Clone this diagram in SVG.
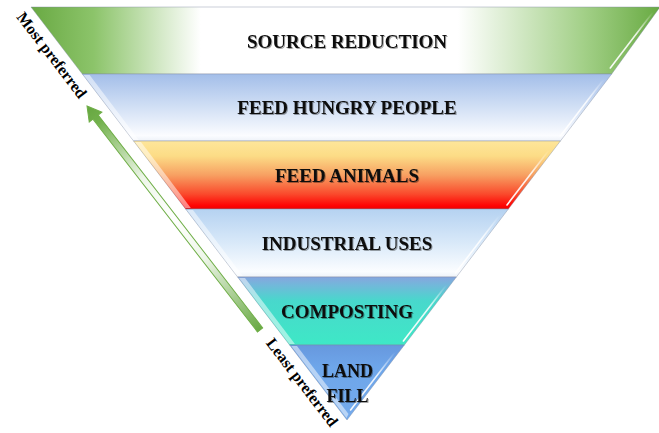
<svg xmlns="http://www.w3.org/2000/svg" width="659" height="433" viewBox="0 0 659 433">
  <defs>
    <style>
      .band { stroke: #7d8aa0; stroke-opacity: 0.4; stroke-width: 1; stroke-linejoin: round; }
      .bevel-l { fill: #ffffff; opacity: 0.5; }
      .bevel-r { fill: none; stroke: url(#gHighlight); stroke-width: 1.6; stroke-linecap: round; }
      .label { font-family: "Liberation Serif", "Times New Roman", serif; font-weight: bold; font-size: 19px; fill: #111111; text-anchor: middle; filter: url(#txtShadow); }
      .side { font-family: "Liberation Serif", "Times New Roman", serif; font-weight: bold; font-size: 16px; fill: #000000; }
    </style>
    <linearGradient id="gSource" gradientUnits="userSpaceOnUse" x1="31" y1="0" x2="659" y2="0">
      <stop offset="0" stop-color="#69a943"/>
      <stop offset="0.1" stop-color="#8cc46a"/>
      <stop offset="0.27" stop-color="#ffffff"/>
      <stop offset="0.68" stop-color="#ffffff"/>
      <stop offset="0.88" stop-color="#a3d088"/>
      <stop offset="1" stop-color="#69ab43"/>
    </linearGradient>
    <linearGradient id="gHungry" x1="0" y1="0" x2="0" y2="1">
      <stop offset="0" stop-color="#a3bee9"/>
      <stop offset="0.5" stop-color="#d2e0f5"/>
      <stop offset="0.92" stop-color="#fbfcff"/>
      <stop offset="1" stop-color="#eef2f8"/>
    </linearGradient>
    <linearGradient id="gAnimals" x1="0" y1="0" x2="0" y2="1">
      <stop offset="0" stop-color="#fee69a"/>
      <stop offset="0.22" stop-color="#fcdc86"/>
      <stop offset="0.5" stop-color="#f7a062"/>
      <stop offset="0.78" stop-color="#fa4a2c"/>
      <stop offset="0.95" stop-color="#ff0404"/>
      <stop offset="1" stop-color="#ee0000"/>
    </linearGradient>
    <linearGradient id="gIndustrial" x1="0" y1="0" x2="0" y2="1">
      <stop offset="0" stop-color="#b5d2f1"/>
      <stop offset="0.5" stop-color="#d9e9f9"/>
      <stop offset="0.92" stop-color="#fbfdff"/>
      <stop offset="1" stop-color="#eef3f9"/>
    </linearGradient>
    <linearGradient id="gCompost" x1="0" y1="0" x2="0" y2="1">
      <stop offset="0" stop-color="#86a6de"/>
      <stop offset="0.12" stop-color="#72b8da"/>
      <stop offset="0.35" stop-color="#48d8cc"/>
      <stop offset="1" stop-color="#3ee8c6"/>
    </linearGradient>
    <linearGradient id="gLandfill" x1="0" y1="0" x2="0" y2="1">
      <stop offset="0" stop-color="#6798de"/>
      <stop offset="0.3" stop-color="#6ea6ea"/>
      <stop offset="1" stop-color="#74aaec"/>
    </linearGradient>
    <linearGradient id="gHighlight" x1="0" y1="0" x2="0" y2="1">
      <stop offset="0" stop-color="#ffffff" stop-opacity="0"/>
      <stop offset="0.4" stop-color="#ffffff" stop-opacity="0.85"/>
      <stop offset="1" stop-color="#ffffff" stop-opacity="0.95"/>
    </linearGradient>
    <linearGradient id="gArrow" x1="0" y1="0" x2="1" y2="0">
      <stop offset="0" stop-color="#66a640"/>
      <stop offset="0.07" stop-color="#72b14c"/>
      <stop offset="0.32" stop-color="#eef6e9"/>
      <stop offset="0.5" stop-color="#ffffff"/>
      <stop offset="0.68" stop-color="#eef6e9"/>
      <stop offset="1" stop-color="#69a944"/>
    </linearGradient>
    <filter id="txtShadow" x="-10%" y="-30%" width="120%" height="160%">
      <feDropShadow dx="1" dy="1" stdDeviation="0.6" flood-color="#000000" flood-opacity="0.35"/>
    </filter>
  </defs>

  <rect width="659" height="433" fill="#ffffff"/>

  <!-- Hierarchy bands, top to bottom -->
  <g id="source-reduction">
    <polygon class="band" points="31,7 660,7 611.7,74 82.3,74" fill="url(#gSource)"/>
    <line class="bevel-r" x1="653" y1="12" x2="610.3" y2="68"/>
    <text class="label" x="347" y="48">SOURCE REDUCTION</text>
  </g>

  <g id="feed-hungry-people">
    <polygon class="band" points="82.3,74 611.7,74 560.4,141 133.6,141" fill="url(#gHungry)"/>
    <polygon class="bevel-l" points="83.6,75 89.6,75 138.8,140 133.3,140"/>
    <line class="bevel-r" x1="603.9" y1="79" x2="560.3" y2="136"/>
    <text class="label" x="347" y="114">FEED HUNGRY PEOPLE</text>
  </g>

  <g id="feed-animals">
    <polygon class="band" points="133.6,141 560.4,141 508.4,209 185.6,209" fill="url(#gAnimals)"/>
    <polygon class="bevel-l" points="135,142 141,142 190.8,208 185.3,208"/>
    <line class="bevel-r" x1="549" y1="150" x2="507" y2="205"/>
    <text class="label" x="347" y="182">FEED ANIMALS</text>
  </g>

  <g id="industrial-uses">
    <polygon class="band" points="185.6,209 508.4,209 456.4,277 237.6,277" fill="url(#gIndustrial)"/>
    <polygon class="bevel-l" points="187,210 193,210 242.8,276 237.3,276"/>
    <line class="bevel-r" x1="499.8" y1="215" x2="455.5" y2="273"/>
    <text class="label" x="347" y="250">INDUSTRIAL USES</text>
  </g>

  <g id="composting">
    <polygon class="band" points="237.6,277 456.4,277 404.4,345 289.6,345" fill="url(#gCompost)"/>
    <polygon class="bevel-l" points="239,278 245,278 294.9,344 289.4,344"/>
    <line class="bevel-r" x1="446.3" y1="285" x2="403.4" y2="341"/>
    <text class="label" x="347" y="318">COMPOSTING</text>
  </g>

  <g id="land-fill">
    <polygon class="band" points="289.6,345 404.4,345 347,420" fill="url(#gLandfill)"/>
    <polygon class="bevel-l" points="291.2,346 297,346 348.5,414 346.5,418"/>
    <line class="bevel-r" x1="395" y1="352" x2="350.6" y2="410"/>
    <text class="label" x="347.5" y="377" style="font-size:18px">LAND</text>
    <text class="label" x="347.5" y="402" style="font-size:18px">FILL</text>
  </g>

  <!-- Preference arrow along the left side -->
  <g id="connectors">
    <g transform="translate(87,106) rotate(52.3)">
      <polygon points="0,0 14,-8 14,-3.3 283,-3.3 283,3.3 14,3.3 14,8" fill="url(#gArrow)" stroke="#6fae47" stroke-width="1" stroke-linejoin="miter"/>
    </g>
  </g>

  <!-- Side captions -->
  <g id="caption-most">
    <text class="side" transform="translate(31,7) rotate(52.58)" x="-1" y="18">Most preferred</text>
  </g>
  <g id="caption-least">
    <text class="side" transform="translate(289.6,345) rotate(52.58)" x="-16" y="18">Least preferred</text>
  </g>
</svg>
